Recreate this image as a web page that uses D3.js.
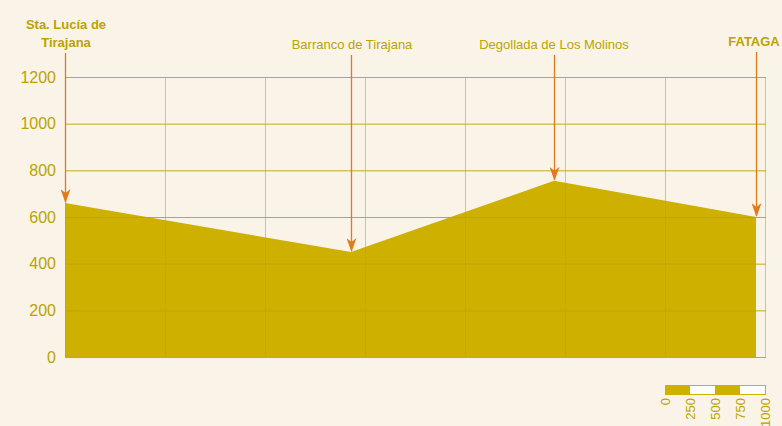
<!DOCTYPE html>
<html>
<head>
<meta charset="utf-8">
<script src="https://cdn.jsdelivr.net/npm/d3@7"></script>
<style>
body { margin: 0; background: #faf3e8; }
svg { display: block; font-family: "Liberation Sans", Arial, sans-serif; }
</style>
</head>
<body>
<div id="viz"></div>
<script>
// Data.
var distances = [0, 2860, 4890, 6910];
var altitudes = [660, 450, 755, 600];
var places = [["Sta. Lucía de", "Tirajana"], ["Barranco de Tirajana"], ["Degollada de Los Molinos"], ["FATAGA"]];
var placeBold = [true, false, false, true];
var yTicks = [0, 200, 400, 600, 800, 1000, 1200];
var scaleSteps = [0, 250, 500, 750, 1000];

var olive = "#cdb000";
var textCol = "#bba300";
var arrowCol = "#e07a1c";

var svg = d3.select("#viz")
	.append("svg")
	.attr("width", 782)
	.attr("height", 426);

var x = d3.scaleLinear().domain([0, 7000]).range([65, 765]);
var y = d3.scaleLinear().domain([0, 1200]).range([357, 77]);

// Arrowhead.
svg.append("defs").append("marker")
	.attr("id", "head")
	.attr("viewBox", "0 0 10 14")
	.attr("refX", 5)
	.attr("refY", 13)
	.attr("markerWidth", 10)
	.attr("markerHeight", 14)
	.attr("markerUnits", "userSpaceOnUse")
	.attr("orient", "0")
	.append("path")
	.attr("d", "M0,0 L5,4 L10,0 L5,14 Z")
	.style("fill", arrowCol);

// Profile.
var pts = distances.map(function (d, i) { return [d, altitudes[i]]; });
svg.append("path")
	.datum(pts)
	.style("fill", olive)
	.attr("d", d3.area()
		.x(function (d) { return x(d[0]); })
		.y0(y(0))
		.y1(function (d) { return y(d[1]); }));

// Grid.
var vLines = d3.range(0, 7001, 1000);
svg.selectAll(".vgrid").data(vLines).enter().append("line")
	.style("stroke", "#c4a400")
	.style("stroke-opacity", 0.55)
	.attr("x1", function (d) { return x(d) + 0.5; })
	.attr("x2", function (d) { return x(d) + 0.5; })
	.attr("y1", y(1200))
	.attr("y2", y(0));

svg.selectAll(".hgrid").data(yTicks).enter().append("line")
	.style("stroke", "#c0a200")
	.style("stroke-opacity", 0.9)
	.attr("x1", x(0))
	.attr("x2", x(7000) + 1)
	.attr("y1", function (d) { return y(d) + 0.5; })
	.attr("y2", function (d) { return y(d) + 0.5; });

// Y labels.
svg.selectAll(".ylab").data(yTicks).enter().append("text")
	.attr("x", 56)
	.attr("y", function (d) { return y(d); })
	.attr("dy", "0.35em")
	.attr("text-anchor", "end")
	.style("font-size", "16px")
	.style("fill", textCol)
	.text(function (d) { return d; });

// Place arrows and names.
var arrowTop = [53, 55, 55, 52];
var labelX = [66, 352, 554, 754];
for (var i = 0; i < distances.length; ++i)
{
	var px = Math.round(x(distances[i])) + 0.5;
	svg.append("line")
		.style("stroke", arrowCol)
		.style("stroke-width", 1.3)
		.attr("x1", px)
		.attr("x2", px)
		.attr("y1", arrowTop[i])
		.attr("y2", y(altitudes[i]) - 1)
		.attr("marker-end", "url(#head)");

	var lines = places[i];
	var t = svg.append("text")
		.attr("text-anchor", "middle")
		.style("fill", textCol)
		.style("font-size", "13px")
		.style("font-weight", placeBold[i] ? "bold" : "normal");
	var y0 = lines.length > 1 ? 29 : (placeBold[i] ? 46 : 49);
	for (var j = 0; j < lines.length; ++j)
	{
		t.append("tspan")
			.attr("x", labelX[i])
			.attr("y", y0 + j * 18)
			.text(lines[j]);
	}
}

// Distance scale bar.
var sx = d3.scaleLinear().domain([0, 1000]).range([665, 765]);
svg.selectAll(".seg").data(scaleSteps.slice(0, 4)).enter().append("rect")
	.attr("x", function (d) { return sx(d); })
	.attr("y", 385)
	.attr("width", sx(250) - sx(0))
	.attr("height", 9)
	.style("fill", function (d, i) { return i % 2 ? "#ffffff" : olive; });
svg.append("rect")
	.attr("x", sx(0) + 0.5)
	.attr("y", 385.5)
	.attr("width", sx(1000) - sx(0))
	.attr("height", 9)
	.style("fill", "none")
	.style("stroke", olive);

svg.selectAll(".slab").data(scaleSteps).enter().append("text")
	.attr("transform", function (d) { return "translate(" + (sx(d) + 4.5) + ",398) rotate(-90)"; })
	.attr("text-anchor", "end")
	.style("font-size", "13px")
	.style("fill", textCol)
	.text(function (d) { return d; });
</script>
</body>
</html>
